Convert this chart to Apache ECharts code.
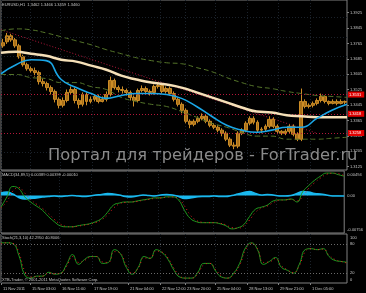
<!DOCTYPE html>
<html><head><meta charset="utf-8">
<script src="https://cdn.jsdelivr.net/npm/echarts@6/dist/echarts.min.js"></script>
<style>html,body{margin:0;padding:0;background:#000;}#c{width:366px;height:293px;}</style>
</head><body><div id="c"></div>
<script>
// ---------- DATA ----------
const priceTicks = [1.3925,1.3845,1.3765,1.3685,1.3605,1.3525,1.3445,1.3365,1.3285,1.3205,1.3125];
// [open, close, low, high]
const candles = [
[1.3753,1.3769,1.3743,1.3789],[1.3774,1.3805,1.3763,1.3820],[1.3805,1.3784,1.3774,1.3815],[1.3784,1.3753,1.3743,1.3794],
[1.3753,1.3696,1.3686,1.3763],[1.3696,1.3655,1.3645,1.3707],[1.3655,1.3634,1.3624,1.3665],[1.3634,1.3624,1.3614,1.3645],
[1.3624,1.3614,1.3593,1.3640],[1.3614,1.3567,1.3552,1.3624],[1.3567,1.3557,1.3542,1.3583],[1.3557,1.3536,1.3521,1.3567],
[1.3536,1.3516,1.3500,1.3547],[1.3516,1.3475,1.3459,1.3526],[1.3475,1.3444,1.3428,1.3485],[1.3444,1.3469,1.3433,1.3485],
[1.3469,1.3511,1.3459,1.3526],[1.3511,1.3526,1.3500,1.3542],[1.3526,1.3469,1.3454,1.3536],[1.3469,1.3449,1.3428,1.3480],
[1.3449,1.3500,1.3438,1.3511],[1.3500,1.3464,1.3444,1.3511],[1.3464,1.3475,1.3454,1.3490],[1.3475,1.3490,1.3464,1.3500],
[1.3490,1.3464,1.3454,1.3500],[1.3464,1.3475,1.3459,1.3490],[1.3475,1.3500,1.3464,1.3516],[1.3500,1.3573,1.3490,1.3593],
[1.3573,1.3536,1.3526,1.3583],[1.3536,1.3526,1.3511,1.3547],[1.3526,1.3521,1.3505,1.3542],[1.3521,1.3511,1.3495,1.3531],
[1.3511,1.3485,1.3469,1.3521],[1.3485,1.3469,1.3438,1.3495],[1.3469,1.3521,1.3459,1.3531],[1.3521,1.3531,1.3511,1.3547],
[1.3531,1.3516,1.3500,1.3542],[1.3516,1.3511,1.3495,1.3526],[1.3511,1.3542,1.3500,1.3552],[1.3542,1.3547,1.3531,1.3562],
[1.3547,1.3516,1.3505,1.3557],[1.3516,1.3531,1.3505,1.3542],[1.3531,1.3505,1.3495,1.3542],[1.3505,1.3475,1.3464,1.3516],
[1.3475,1.3449,1.3438,1.3485],[1.3449,1.3418,1.3402,1.3459],[1.3418,1.3361,1.3351,1.3428],[1.3361,1.3345,1.3325,1.3371],
[1.3345,1.3361,1.3335,1.3371],[1.3361,1.3376,1.3351,1.3387],[1.3376,1.3387,1.3366,1.3402],[1.3387,1.3361,1.3351,1.3397],
[1.3361,1.3340,1.3330,1.3371],[1.3340,1.3330,1.3320,1.3351],[1.3330,1.3315,1.3304,1.3340],[1.3315,1.3299,1.3283,1.3325],
[1.3299,1.3268,1.3258,1.3309],[1.3268,1.3237,1.3227,1.3278],[1.3237,1.3232,1.3216,1.3252],[1.3232,1.3299,1.3221,1.3309],
[1.3299,1.3315,1.3289,1.3325],[1.3315,1.3351,1.3304,1.3361],[1.3351,1.3376,1.3340,1.3387],[1.3376,1.3356,1.3345,1.3387],
[1.3356,1.3315,1.3304,1.3366],[1.3315,1.3320,1.3299,1.3330],[1.3320,1.3335,1.3309,1.3345],[1.3335,1.3371,1.3325,1.3387],
[1.3371,1.3335,1.3325,1.3382],[1.3335,1.3309,1.3294,1.3345],[1.3309,1.3299,1.3289,1.3315],[1.3299,1.3309,1.3289,1.3320],
[1.3309,1.3335,1.3299,1.3345],[1.3335,1.3294,1.3283,1.3345],[1.3294,1.3268,1.3258,1.3304],[1.3268,1.3464,1.3258,1.3531],
[1.3464,1.3438,1.3428,1.3475],[1.3438,1.3444,1.3428,1.3454],[1.3444,1.3454,1.3433,1.3464],[1.3454,1.3469,1.3444,1.3480],
[1.3469,1.3490,1.3459,1.3505],[1.3490,1.3464,1.3454,1.3495],[1.3464,1.3454,1.3444,1.3469],[1.3454,1.3464,1.3449,1.3475],
[1.3464,1.3454,1.3444,1.3475],[1.3454,1.3464,1.3449,1.3475],[1.3464,1.3460,1.3449,1.3469]
];
const maSlow = [1.3717,1.3722,1.3712,1.3701,1.3681,1.3671,1.3650,1.3629,1.3598,1.3578,1.3562,1.3552,1.3536,1.3511,1.3485,1.3459,1.3433,1.3412,1.3407,1.3392,1.3387,1.3382,1.3382,1.3382];
const maFast = [1.3608,1.3655,1.3681,1.3676,1.3578,1.3536,1.3505,1.3480,1.3495,1.3505,1.3505,1.3500,1.3480,1.3438,1.3387,1.3340,1.3315,1.3304,1.3315,1.3330,1.3330,1.3376,1.3418,1.3449];
const envUpper = [1.3831,1.3841,1.3836,1.3820,1.3800,1.3779,1.3758,1.3733,1.3712,1.3691,1.3676,1.3665,1.3660,1.3640,1.3619,1.3588,1.3562,1.3541,1.3531,1.3516,1.3505,1.3495,1.3490,1.3485];
const envLower = [1.3604,1.3604,1.3588,1.3583,1.3562,1.3562,1.3541,1.3526,1.3485,1.3464,1.3449,1.3438,1.3412,1.3382,1.3351,1.3330,1.3304,1.3284,1.3284,1.3268,1.3268,1.3268,1.3273,1.3278];
const trendLine = [1.3836,null,null,null,null,null,null,null,null,null,null,null,null,null,null,null,null,null,null,null,null,1.3299,null,null];
const levels = [1.3531,1.3418,1.3258];
const lastPrice = 1.3460;

const macdMain = [-0.00235,-0.00027,0.00182,0.00140,-0.00027,-0.00131,-0.00214,-0.00298,-0.00423,-0.00527,-0.00610,-0.00631,-0.00631,-0.00610,-0.00589,-0.00569,-0.00527,-0.00464,-0.00339,-0.00194,-0.00152,-0.00131,-0.00131,-0.00110,-0.00089,-0.00069,-0.00048,-0.00048,-0.00027,-0.00027,-0.00089,-0.00298,-0.00464,-0.00527,-0.00548,-0.00548,-0.00548,-0.00569,-0.00610,-0.00673,-0.00652,-0.00589,-0.00423,-0.00277,-0.00235,-0.00194,-0.00110,-0.00089,-0.00089,-0.00069,-0.00131,0.00077,0.00202,0.00307,0.00390,0.00452,0.00452,0.00420,0.00389];
const macdSignal = [-0.00250,-0.00120,0.00090,0.00160,0.00050,-0.00080,-0.00175,-0.00258,-0.00365,-0.00480,-0.00575,-0.00622,-0.00632,-0.00620,-0.00598,-0.00578,-0.00545,-0.00490,-0.00395,-0.00258,-0.00170,-0.00140,-0.00131,-0.00120,-0.00098,-0.00078,-0.00058,-0.00050,-0.00036,-0.00028,-0.00062,-0.00210,-0.00395,-0.00500,-0.00540,-0.00548,-0.00548,-0.00560,-0.00592,-0.00648,-0.00660,-0.00618,-0.00495,-0.00340,-0.00255,-0.00212,-0.00145,-0.00098,-0.00090,-0.00078,-0.00105,-0.00020,0.00145,0.00258,0.00352,0.00425,0.00448,0.00440,0.00399];
const macdHist = [0.0005,0.0007,0.0003,-0.0004,-0.0007,-0.0006,-0.0005,-0.0003,-0.0002,-0.0001,-0.0002,-0.0001,0.0000,-0.0001,-0.0002,-0.0001,0.0001,0.0002,0.0004,0.0003,0.0001,-0.0002,-0.0003,-0.0001,0.0001,0.0000,-0.0001,0.0001,0.0002,0.0001,-0.0002,-0.0006,-0.0005,-0.0003,-0.0002,-0.0002,-0.0001,-0.0002,-0.0002,0.0000,0.0003,0.0006,0.0008,0.0004,0.0001,0.0002,0.0001,-0.0001,-0.0001,0.0000,0.0004,0.0008,0.0007,0.0004,0.0003,0.0001,-0.0001,-0.0001,-0.0001];
const macdTicks = [0.00494,0,-0.00756];

const stochMain = [82,82,80,56,16,10,14,14,22,18,20,38,58,38,48,54,54,40,42,68,60,32,18,32,54,50,68,62,48,26,12,10,10,22,40,40,24,12,10,20,40,72,82,68,38,44,52,32,26,20,38,68,70,68,70,54,46,44,42.3];
const stochSignal = [80,82,81,62,24,12,13,14,20,19,20,34,54,42,46,53,54,43,42,64,61,36,20,30,51,51,65,63,51,30,14,10,10,19,37,40,27,14,10,18,36,68,81,70,42,43,50,35,27,21,35,64,70,68,69,57,48,44,40.8];
const stochTicks = [100,80,20,0];
const stochLevels = [80,20];

const timeLabels = ['11 Nov 2011','15 Nov 03:00','16 Nov 11:00','17 Nov 19:00','21 Nov 04:00','22 Nov 12:00','23 Nov 20:00','25 Nov 04:00','28 Nov 13:00','29 Nov 21:00','1 Dec 05:00'];
const timeLabelIdx = [0,29,59,91,127,159,184,214,246,277,309];
const timeSlots = 347;

// ---------- CHART ----------
const FONT = 'Liberation Sans';
const TXT = '#c4c4c4';
const GRIDC = '#1b222b';
const chart = echarts.init(document.getElementById('c'));
const idx = n => Array.from({length:n}, (_, i) => String(i));
const isTick = (i) => timeLabelIdx.indexOf(i) >= 0;

function timeAxis(g, labels) {
  return {
    gridIndex: g, type: 'category', data: idx(timeSlots), boundaryGap: false, position: 'bottom',
    axisLine: {show: false},
    axisTick: {show: labels, interval: isTick, length: 2, lineStyle: {color: '#808080'}},
    axisLabel: {show: labels, interval: isTick, align: 'left', margin: 4, fontSize: 4, fontFamily: FONT, color: TXT,
      padding: [0,0,0,2], formatter: (v, i) => { const j = timeLabelIdx.indexOf(Number(v)); return j >= 0 ? timeLabels[j] : ''; }},
    splitLine: {show: true, interval: isTick, lineStyle: {color: GRIDC, type: [1,2], width: 1}}
  };
}
const edgeRich = {
  dn: {fontSize: 4, fontFamily: FONT, color: TXT, padding: [7,0,0,0]},
  up: {fontSize: 4, fontFamily: FONT, color: TXT, padding: [0,0,6,0]},
  n: {fontSize: 4, fontFamily: FONT, color: TXT}
};

const option = {
  backgroundColor: '#000000',
  animation: false,
  grid: [
    {left: 1, right: 19, top: -1, height: 171, show: true, borderColor: '#808080', borderWidth: 1, backgroundColor: 'transparent'},
    {left: 1, right: 19, top: 171, height: 62, show: true, borderColor: '#808080', borderWidth: 1, backgroundColor: 'transparent'},
    {left: 1, right: 19, top: 234, height: 49, show: true, borderColor: '#808080', borderWidth: 1, backgroundColor: 'transparent'}
  ],
  xAxis: [
    {gridIndex: 0, type: 'category', data: idx(candles.length), boundaryGap: true, show: false},
    {gridIndex: 0, type: 'category', data: idx(maSlow.length), boundaryGap: false, show: false},
    timeAxis(0, false),
    {gridIndex: 1, type: 'category', data: idx(macdMain.length), boundaryGap: false, show: false},
    timeAxis(1, false),
    {gridIndex: 2, type: 'category', data: idx(stochMain.length), boundaryGap: false, show: false},
    timeAxis(2, true)
  ],
  yAxis: [
    {gridIndex: 0, type: 'value', min: 1.3108, max: 1.3991, position: 'right',
      axisLine: {show: false}, splitLine: {show: false},
      axisTick: {show: true, customValues: priceTicks, length: 2, lineStyle: {color: '#808080'}},
      axisLabel: {customValues: priceTicks, formatter: v => v.toFixed(4), fontSize: 4, fontFamily: FONT, color: TXT, margin: 3}},
    {gridIndex: 1, type: 'value', min: -0.00756, max: 0.00494, position: 'right',
      axisLine: {show: false}, splitLine: {show: false},
      axisTick: {show: false, customValues: macdTicks},
      axisLabel: {customValues: macdTicks, margin: 3, rich: edgeRich,
        formatter: v => v > 0.001 ? '{dn|' + v.toFixed(5) + '}' : (v < -0.001 ? '{up|' + v.toFixed(5) + '}' : '{n|0.00}')}},
    {gridIndex: 2, type: 'value', min: 0, max: 100, position: 'right',
      axisLine: {show: false}, splitLine: {show: false},
      axisTick: {show: false, customValues: stochTicks},
      axisLabel: {customValues: stochTicks, margin: 3, rich: edgeRich,
        formatter: v => v === 100 ? '{dn|100}' : (v === 0 ? '{up|0}' : '{n|' + v + '}')}}
  ],
  series: [
    {type: 'line', xAxisIndex: 1, yAxisIndex: 0, data: trendLine, connectNulls: true, symbol: 'none', z: 2,
      lineStyle: {color: '#b3173a', width: 1, type: [1,2]},
      markLine: {silent: true, symbol: ['none','none'], animation: false,
        data: priceTicks.map(v => ({yAxis: v, lineStyle: {color: GRIDC, type: [1,2], width: 1}, label: {show: false}}))
          .concat(levels.map(v => ({yAxis: v, lineStyle: {color: '#b3173a', type: [1,2], width: 1},
            label: {show: true, position: 'end', distance: 1, formatter: v.toFixed(4), backgroundColor: '#e00000', color: '#ffffff',
              fontSize: 4, fontFamily: FONT, padding: [1,3,1,1]}})))
          .concat([{yAxis: lastPrice, lineStyle: {opacity: 0},
            label: {show: true, position: 'end', distance: 1, formatter: lastPrice.toFixed(4), backgroundColor: '#ffffff', color: '#000000',
              fontSize: 4, fontFamily: FONT, padding: [1,3,1,1]}}])
      }},
    {type: 'candlestick', xAxisIndex: 0, yAxisIndex: 0, data: candles, barWidth: 3.4, z: 3,
      itemStyle: {color: '#a8701a', color0: '#a8701a', borderColor: '#cc8c26', borderColor0: '#cc8c26', borderWidth: 1}},
    {type: 'line', xAxisIndex: 1, yAxisIndex: 0, data: envUpper, smooth: true, symbol: 'none', z: 4,
      lineStyle: {color: '#55752a', width: 1, type: [5,3]}},
    {type: 'line', xAxisIndex: 1, yAxisIndex: 0, data: envLower, smooth: true, symbol: 'none', z: 4,
      lineStyle: {color: '#55752a', width: 1, type: [5,3]}},
    {type: 'line', xAxisIndex: 1, yAxisIndex: 0, data: maSlow, smooth: true, symbol: 'none', z: 5,
      lineStyle: {color: '#f5e0b8', width: 2.5}},
    {type: 'line', xAxisIndex: 1, yAxisIndex: 0, data: maFast, smooth: true, symbol: 'none', z: 5,
      lineStyle: {color: '#1aa6e6', width: 1.6}},

    {type: 'line', xAxisIndex: 3, yAxisIndex: 1, data: macdHist, smooth: true, symbol: 'none', z: 3,
      lineStyle: {color: '#1ab8ee', width: 1.5}, areaStyle: {color: '#1ab8ee', opacity: 1}},
    {type: 'line', xAxisIndex: 3, yAxisIndex: 1, data: macdMain, smooth: true, symbol: 'none', z: 4,
      lineStyle: {color: '#1f9a1f', width: 1}},
    {type: 'line', xAxisIndex: 3, yAxisIndex: 1, data: macdSignal, smooth: true, symbol: 'none', z: 5,
      lineStyle: {color: '#e02020', width: 1, type: [1,3]}},

    {type: 'line', xAxisIndex: 5, yAxisIndex: 2, data: stochMain, smooth: true, symbol: 'none', z: 4,
      lineStyle: {color: '#1f9a1f', width: 1},
      markLine: {silent: true, symbol: ['none','none'], animation: false, label: {show: false},
        data: stochLevels.map(v => ({yAxis: v})), lineStyle: {color: '#6a6a6a', type: [1,2], width: 1}}},
    {type: 'line', xAxisIndex: 5, yAxisIndex: 2, data: stochSignal, smooth: true, symbol: 'none', z: 5,
      lineStyle: {color: '#e02020', width: 1, type: [1,3]}}
  ],
  graphic: [
    {type: 'text', left: 2, top: 3, z: 10, style: {text: 'EURUSD,H1  1.3462 1.3466 1.3459 1.3460', fill: TXT, fontSize: 4, fontFamily: FONT}},
    {type: 'text', left: 2, top: 173, z: 10, style: {text: 'MACD(34,89,5) 0.00389 0.00399 -0.00010', fill: TXT, fontSize: 4, fontFamily: FONT}},
    {type: 'text', left: 2, top: 236, z: 10, style: {text: 'Stoch(21,3,10) 42.2950 40.8006', fill: TXT, fontSize: 4, fontFamily: FONT}},
    {type: 'text', left: 2, top: 278, z: 10, style: {text: 'XTB-Trader, © 2001-2011 MetaQuotes Software Corp.', fill: TXT, fontSize: 4, fontFamily: FONT}},
    {type: 'text', left: 48, top: 148, z: 20, style: {text: 'Портал для трейдеров - ForTrader.ru', fill: '#8a8a8a', fontSize: 16.3, fontFamily: 'DejaVu Sans'}}
  ]
};
chart.setOption(option);
</script>
</body></html>
